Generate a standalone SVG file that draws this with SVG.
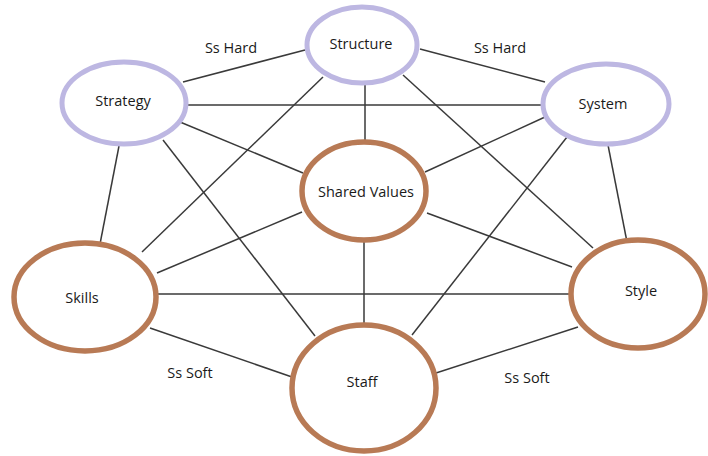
<svg xmlns="http://www.w3.org/2000/svg" width="708" height="456" viewBox="0 0 708 456">
<style>
.bg{fill:#ffffff}
.ln{stroke:#3a3a3a;stroke-width:1.5;fill:none}
.hard{fill:#ffffff;stroke:#bdb7e2;stroke-width:5}
.soft{fill:#ffffff;stroke:#b87a55;stroke-width:5.5}
.t{font-family:"Open Sans","Liberation Sans",sans-serif;font-size:14.5px;fill:#1a1a1a;text-anchor:middle}
</style>
<rect class="bg" x="0" y="0" width="708" height="456"/>
<g id="connectors">
<line class="ln" x1="183" y1="82" x2="305" y2="50"/>
<line class="ln" x1="420" y1="49" x2="545" y2="82"/>
<line class="ln" x1="186" y1="105" x2="544" y2="105"/>
<line class="ln" x1="119" y1="146" x2="100" y2="244"/>
<line class="ln" x1="608" y1="145" x2="627" y2="242"/>
<line class="ln" x1="365" y1="82" x2="365" y2="142"/>
<line class="ln" x1="364" y1="240" x2="364" y2="325"/>
<line class="ln" x1="180" y1="122" x2="303" y2="173"/>
<line class="ln" x1="545" y1="117" x2="425" y2="172"/>
<line class="ln" x1="157" y1="273" x2="302" y2="212"/>
<line class="ln" x1="427" y1="213" x2="572" y2="267"/>
<line class="ln" x1="323" y1="77" x2="142" y2="252"/>
<line class="ln" x1="403" y1="75" x2="593" y2="248"/>
<line class="ln" x1="163" y1="140" x2="315" y2="336"/>
<line class="ln" x1="567" y1="137" x2="412" y2="335"/>
<line class="ln" x1="156" y1="294" x2="572" y2="294"/>
<line class="ln" x1="150" y1="328" x2="292" y2="377"/>
<line class="ln" x1="436" y1="373" x2="578" y2="327"/>
</g>
<g id="structure"><ellipse class="hard" cx="362" cy="45" rx="55" ry="38"/><text class="t" x="361" y="49">Structure</text></g>
<g id="strategy"><ellipse class="hard" cx="124" cy="103" rx="62" ry="41"/><text class="t" x="123" y="106">Strategy</text></g>
<g id="system"><ellipse class="hard" cx="606" cy="104" rx="63" ry="40"/><text class="t" x="603" y="109">System</text></g>
<g id="shared-values"><ellipse class="soft" cx="364" cy="191" rx="62" ry="49"/><text class="t" x="366" y="197">Shared Values</text></g>
<g id="skills"><ellipse class="soft" cx="85" cy="297" rx="71" ry="54"/><text class="t" x="82" y="303">Skills</text></g>
<g id="style"><ellipse class="soft" cx="638" cy="294" rx="67" ry="54"/><text class="t" x="641" y="296">Style</text></g>
<g id="staff"><ellipse class="soft" cx="364" cy="388" rx="72" ry="63"/><text class="t" x="362" y="387">Staff</text></g>
<g id="labels">
<text class="t" x="231" y="53">Ss Hard</text>
<text class="t" x="500" y="53">Ss Hard</text>
<text class="t" x="190" y="378">Ss Soft</text>
<text class="t" x="527" y="383">Ss Soft</text>
</g>
</svg>
